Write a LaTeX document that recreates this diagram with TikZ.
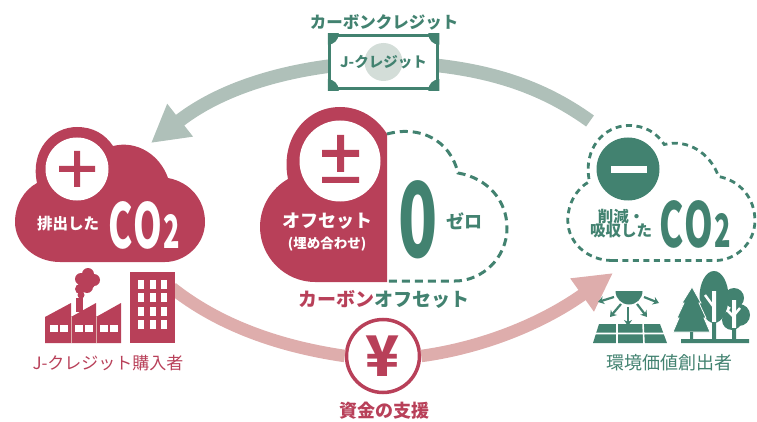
\documentclass[tikz,border=0pt]{standalone}
\usepackage{fontspec}
\setmainfont{Noto Sans CJK JP}
\usetikzlibrary{arrows.meta}
\definecolor{rosered}{HTML}{B84059}
\definecolor{rosepale}{HTML}{DEADAC}
\definecolor{forest}{HTML}{428270}
\definecolor{sage}{HTML}{AFC0B9}
\definecolor{sagepale}{HTML}{D3DDD8}
\newcommand{\cloudpath}{(60,262) .. controls (35,262) and (15,244) .. (15,222)
  .. controls (15,205) and (24,190) .. (37,183)
  .. controls (30,150) and (52,127) .. (77,127)
  .. controls (93,127) and (105,134) .. (113,146)
  .. controls (137,140) and (160,155) .. (168,178)
  .. controls (190,182) and (205,200) .. (205,222)
  .. controls (205,245) and (185,262) .. (165,262) -- cycle}
\newcommand{\cotwo}{{\fontsize{62}{62}\selectfont C\kern1pt O\kern2pt\fontsize{46}{46}\selectfont 2}}
\tikzset{
  boldtext/.style={inner sep=0pt, font=\fontsize{#1}{#1}\selectfont\bfseries},
  thintext/.style={inner sep=0pt, font=\fontsize{#1}{#1}\selectfont},
  cotext/.style={inner sep=0pt, font=\bfseries, xscale=.59},
  creditflow/.style={draw=sage, line width=13.5pt},
  moneyflow/.style={draw=rosepale, line width=12.5pt},
  sunray/.style={draw=forest, line width=2.2pt, -{Stealth[length=6pt, width=8pt]}},
  cutline/.style={draw=white, line width=1.6pt}
}
\begin{document}
\begin{tikzpicture}[x=1pt,y=-1pt]
\useasboundingbox (0,0) rectangle (757,422);

% credit arrow
\coordinate (creditstart) at (590,121);
\coordinate (credittip) at (151,143);
\node[inner sep=0pt, minimum width=111pt, minimum height=56pt] (note) at (383.5,62) {};
\draw[creditflow] (creditstart) .. controls (540,85) and (480,64) .. (note.center);
\draw[creditflow, -{Triangle[length=37pt, width=39pt]}] (note.center) .. controls (300,64) and (225,85) .. (credittip);

% money arrow
\coordinate (moneystart) at (172,288);
\coordinate (moneytip) at (613,273);
\node[circle, draw=rosered, fill=white, line width=3.5pt, minimum size=73pt, inner sep=0pt,
  text=rosered, font=\fontsize{56}{56}\selectfont\bfseries] (yen) at (383,356) {¥};
\draw[moneyflow] (moneystart) .. controls (225,330) and (290,348) .. (yen.west);
\draw[moneyflow, -{Triangle[length=38pt, width=38pt]}] (yen.east) .. controls (480,348) and (540,325) .. (moneytip);

% credit note
\node[draw=forest, fill=white, line width=3.5pt, minimum width=108pt, minimum height=53pt, inner sep=0pt] (bill) at (note.center) {};
\begin{scope}
  \clip (bill.south west) rectangle (bill.north east);
  \foreach \corner in {north west, north east, south west, south east}
    \fill[forest] (bill.\corner) circle (11);
\end{scope}
\fill[sagepale] (bill.center) circle (19);
\node[boldtext=14.5, text=forest] (billtext) at (bill.center) {J-クレジット};
\node[boldtext=16.5, text=forest] (credit) at (384,22) {カーボンクレジット};

% emitter cloud
\fill[rosered] \cloudpath;
\node[circle, fill=white, minimum size=63pt, inner sep=0pt] (plus) at (77,169) {};
\fill[rosered] (59,166) rectangle (95,172) (74,151) rectangle (80,187);
\node[boldtext=15.5, text=white] (emitted) at (68,224) {排出した};
\node[cotext, text=white] (co2left) at (144,225) {\cotwo};

% factory and building
\fill[rosered] (45,343) -- (45,317) -- (71,303) -- (71,317) -- (96,303) -- (96,317) -- (121,303) -- (121,343) -- cycle;
\fill[rosered] (76,298) rectangle (83,312);
\fill[rosered] (87,281) circle (9) (88,274) circle (6) (81,279) circle (6) (94,280) circle (6) (87,287) circle (6) (80,289) circle (5) (81,295) circle (3.5);
\draw[draw=rosepale, line width=.5pt] (71,317) -- (71,343) (96,317) -- (96,343);
\foreach \wx in {50,60,75,85,100,110}
  \fill[white] (\wx,325) rectangle ++(7.5,7);
\fill[rosered] (130,272) rectangle (175,343);
\foreach \wx in {138,150,161}
  \foreach \wy in {280,293,307,320}
    \fill[white] (\wx,\wy) rectangle ++(6,9);
\node[thintext=17, text=rosered] (buyer) at (108,363) {J-クレジット購入者};

% offset cloud
\fill[rosered] (387,282) -- (315,282) .. controls (285,282) and (260,257) .. (260,227)
  .. controls (260,206) and (272,188) .. (288,179)
  .. controls (280,140) and (305,107) .. (340,107)
  .. controls (360,107) and (377,118) .. (387,134) -- cycle;
\draw[forest, line width=3pt, dash pattern=on 8pt off 5pt] (387,134)
  .. controls (420,125) and (450,140) .. (458,173)
  .. controls (487,178) and (507,200) .. (507,228)
  .. controls (507,258) and (482,281) .. (455,281) -- (387,281);
\node[circle, fill=white, minimum size=81pt, inner sep=0pt] (plusminus) at (340,161) {};
\fill[rosered] (322,150) rectangle (359,157) (337,135) rectangle (344,172) (322,177) rectangle (359,183);
\node[boldtext=18, text=white] (offset) at (327,221) {オフセット};
\node[boldtext=13.5, text=white] (offsetsub) at (327,244) {(埋め合わせ)};
\node[cotext, text=forest, xscale=1.05, font=\fontsize{104}{104}\selectfont\bfseries] (zero) at (418,220) {0};
\node[boldtext=18, text=forest] (zerotext) at (464,221) {ゼロ};
\node[boldtext=19, text=rosered] (carbonoffset) at (384,299) {カーボン\textcolor{forest}{オフセット}};
\node[boldtext=18, text=rosered] (support) at (384,411) {資金の支援};

% reducer cloud
\draw[forest, line width=2.8pt, dash pattern=on 6pt off 4.5pt, shift={(553,-1.5)}, xscale=.985] \cloudpath;
\node[circle, fill=forest, minimum size=63pt, inner sep=0pt] (minus) at (628,169) {};
\fill[white] (611,166) rectangle (647,173);
\node[boldtext=15.5, text=forest, align=center] (reduced) at (621,223.5) {削減・\\[-1pt]吸収した};
\node[cotext, text=forest] (co2right) at (695,224) {\cotwo};

% sun and panels
\fill[forest] (615.5,291) arc[start angle=180, end angle=0, radius=13.5] -- cycle;
\draw[sunray] (614,297) -- (598,302);
\draw[sunray] (621,304) -- (610,317);
\draw[sunray] (628,307) -- (628,326);
\draw[sunray] (637,304) -- (647,317);
\draw[sunray] (644,297) -- (659,303);
\fill[forest] (599,324) -- (660,324) -- (667,343) -- (593,343) -- cycle;
\draw[cutline] (590,333.5) -- (670,333.5) (617,323) -- (617,344) (643,323) -- (644,344);

% trees
\fill[forest] (714,297) ellipse (14.5 and 26);
\fill[forest] (734,298) circle (10) (739,315) circle (11) (732,320) circle (10);
\fill[white] (712,291) rectangle (716,322) (732,300) rectangle (736,328);
\draw[white, line width=2.5pt] (705,295) -- (713,306) (727,310) -- (733,316) (740,308) -- (735,314);
\fill[forest] (712,322) rectangle (716,340) (732,328) rectangle (736,340);
\fill[forest, draw=white, line width=.8pt] (692,287) -- (701,303) -- (699,303) -- (706,318) -- (704,318) -- (710,332) -- (673,332) -- (679,318) -- (677,318) -- (684,303) -- (682,303) -- cycle;
\fill[forest] (690,332) rectangle (693,340) (681,339) rectangle (749,343);
\node[thintext=18, text=forest] (creator) at (669,363) {環境価値創出者};
\end{tikzpicture}
\end{document}
